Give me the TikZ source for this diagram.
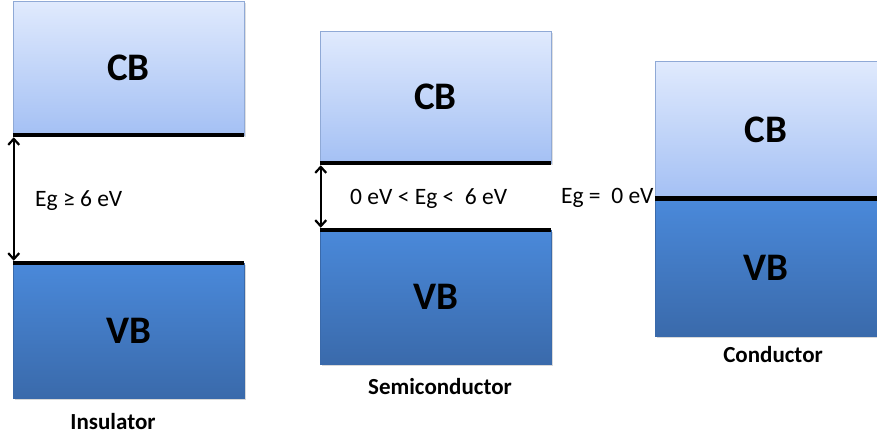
\documentclass[tikz,border=0pt]{standalone}
\usepackage{fontspec}
\setmainfont{Carlito}
\usetikzlibrary{arrows.meta, positioning, shadows}
\definecolor{cbTop}{HTML}{E0EAFD}
\definecolor{cbBot}{HTML}{A4C0F4}
\definecolor{vbTop}{HTML}{4A89DA}
\definecolor{vbBot}{HTML}{3A6AAB}
\definecolor{bandEdge}{HTML}{8FA9D6}

\begin{document}
\begin{tikzpicture}[
    x=1pt, y=-1pt,
    cb/.style={draw=bandEdge, line width=0.5pt, top color=cbTop, bottom color=cbBot,
               minimum width=231pt, inner sep=0pt, font=\fontsize{39}{41}\selectfont\bfseries,
               drop shadow={opacity=0.25, shadow xshift=1.5pt, shadow yshift=-1.5pt}},
    vb/.style={draw=vbBot, line width=0.5pt, top color=vbTop, bottom color=vbBot,
               minimum width=231pt, inner sep=0pt, font=\fontsize{39}{41}\selectfont\bfseries,
               drop shadow={opacity=0.3, shadow xshift=1.5pt, shadow yshift=-1.5pt}},
    edge/.style={line width=4pt, draw=black},
    gap/.style={{Straight Barb[length=6pt, width=11pt]}-{Straight Barb[length=6pt, width=11pt]}, line width=2.2pt},
    gl/.style={font=\fontsize{23.5}{25}\selectfont, inner sep=1pt},
    kind/.style={font=\fontsize{23}{25}\selectfont\bfseries},
  ]
  \useasboundingbox (0,0) rectangle (877,437);

  % insulator
  \node[cb, minimum height=134pt] (insCB) at (128.5,68) {CB};
  \node[vb, minimum height=135pt] (insVB) at (128.5,330.5) {VB};
  \draw[edge] (insCB.south west) -- (insCB.south east);
  \draw[edge] (insVB.north west) -- (insVB.north east);
  \coordinate (insT) at ([xshift=1pt, yshift=-2pt]insCB.south west);
  \coordinate (insB) at ([xshift=1pt, yshift=2pt]insVB.north west);
  \draw[gap] (insT) -- (insB);
  \node[gl, anchor=west] (insEg) at (34,201) {Eg ≥ 6 eV};
  \node[kind] (insName) at (113,422) {Insulator};

  % semiconductor
  \node[cb, minimum height=132pt] (semCB) at (435.5,97) {CB};
  \node[vb, minimum height=134pt] (semVB) at (435.5,297) {VB};
  \draw[edge] (semCB.south west) -- (semCB.south east);
  \draw[edge] (semVB.north west) -- (semVB.north east);
  \coordinate (semT) at ([xshift=1pt, yshift=-2pt]semCB.south west);
  \coordinate (semB) at ([xshift=1pt, yshift=2pt]semVB.north west);
  \draw[gap] (semT) -- (semB);
  \node[gl, anchor=west] (semEg) at (349,199) {0 eV < Eg <\ \ 6 eV};
  \node[kind] (semName) at (440,387) {Semiconductor};

  % conductor
  \node[cb, minimum width=222pt, minimum height=137pt] (conCB) at (766,129.5) {CB};
  \node[vb, minimum width=222pt, minimum height=137pt] (conVB) at (766,267.5) {VB};
  \draw[edge, line width=5pt] (conCB.south west) -- (conCB.south east);
  \node[gl, anchor=east] (conEg) at (conCB.south west) {Eg =\ \ 0 eV};
  \node[kind] (conName) at (773,355) {Conductor};
\end{tikzpicture}
\end{document}
